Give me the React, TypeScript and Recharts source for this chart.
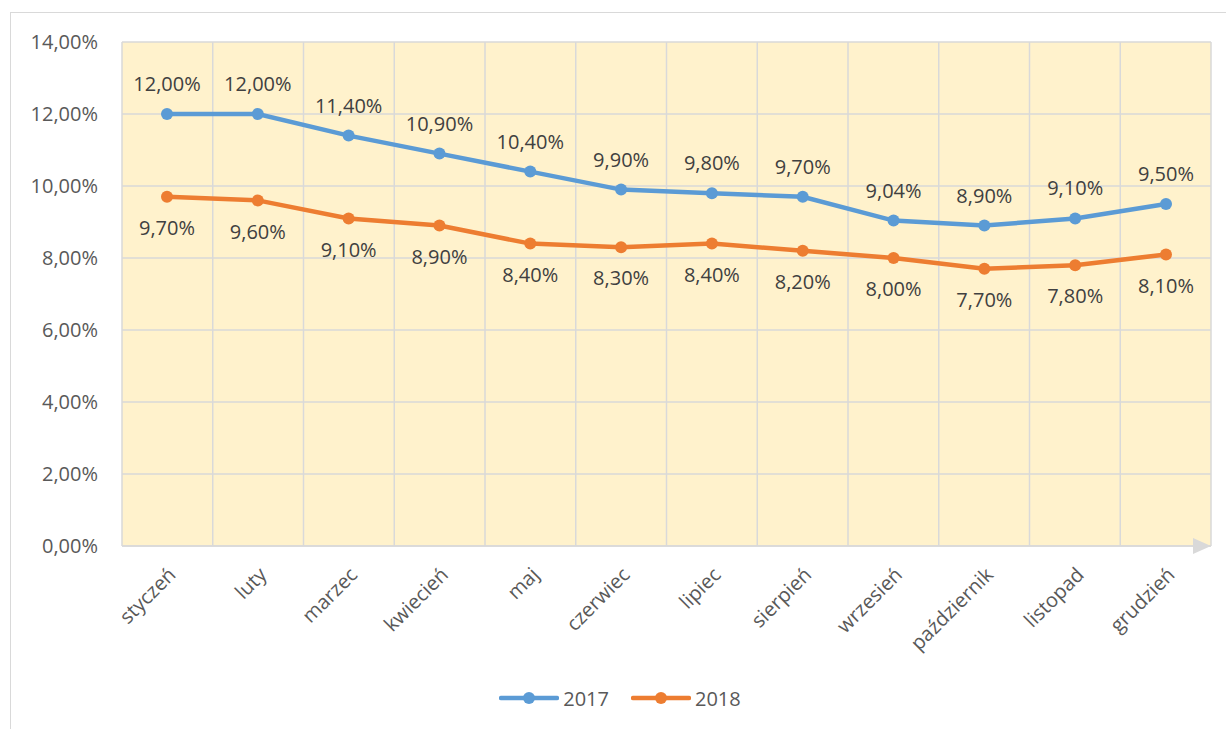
import React from "react";
import { LineChart, Line, XAxis, YAxis, CartesianGrid, Legend, LabelList } from "recharts";

const months = ["styczeń", "luty", "marzec", "kwiecień", "maj", "czerwiec", "lipiec", "sierpień", "wrzesień", "październik", "listopad", "grudzień"];
const values2017 = [12.0, 12.0, 11.4, 10.9, 10.4, 9.9, 9.8, 9.7, 9.04, 8.9, 9.1, 9.5];
const values2018 = [9.7, 9.6, 9.1, 8.9, 8.4, 8.3, 8.4, 8.2, 8.0, 7.7, 7.8, 8.1];
const yTicks = [0, 2, 4, 6, 8, 10, 12, 14];

const data = months.map((m, i) => ({ month: m, y2017: values2017[i], y2018: values2018[i] }));

const FONT = "'Open Sans', sans-serif";
const GRID = "#D9D9D9";
const FS = 20;
const pct = (v: number) => v.toFixed(2).replace(".", ",") + "%";

const MonthTick = ({ x, y, payload }: any) => (
  <text
    x={0}
    y={0}
    transform={`translate(${x + 10}, ${y + 22}) rotate(-45)`}
    textAnchor="end"
    fill="#595959"
    fontSize={FS}
    fontFamily={FONT}
  >
    {payload.value}
  </text>
);

const AxisArrow = ({ viewBox }: any) => {
  if (!viewBox) return null;
  const tx = viewBox.x + viewBox.width;
  const ty = viewBox.y;
  return <polygon points={`${tx - 18},${ty - 8} ${tx},${ty} ${tx - 18},${ty + 8}`} fill={GRID} />;
};

const LegendContent = () => {
  const items = [
    { name: "2017", color: "#5B9BD5" },
    { name: "2018", color: "#ED7D31" },
  ];
  return (
    <div style={{ display: "flex", justifyContent: "center", gap: 22, height: 30, alignItems: "center", paddingLeft: 18, fontFamily: FONT }}>
      {items.map((it) => (
        <div key={it.name} style={{ display: "flex", alignItems: "center" }}>
          <svg width={60} height={14}>
            <line x1={2} y1={7} x2={58} y2={7} stroke={it.color} strokeWidth={4.5} strokeLinecap="round" />
            <circle cx={30} cy={7} r={6} fill={it.color} />
          </svg>
          <span style={{ fontSize: FS, color: "#595959", marginLeft: 4 }}>{it.name}</span>
        </div>
      ))}
    </div>
  );
};

export default function App() {
  return (
    <div
      style={{
        position: "absolute",
        left: 10,
        top: 12,
        width: 1216,
        height: 717,
        boxSizing: "border-box",
        borderTop: `1.5px solid ${GRID}`,
        borderLeft: `1.5px solid ${GRID}`,
        background: "#fff",
        overflow: "hidden",
      }}
    >
      <LineChart width={1216} height={717} data={data} margin={{ top: 29, right: 16, bottom: 17, left: 0 }}>
        <CartesianGrid
          fill="#FFF2CC"
          stroke={GRID}
          strokeWidth={1.5}
          verticalCoordinatesGenerator={({ offset }: any) =>
            Array.from({ length: 13 }, (_, i) => offset.left + (i * offset.width) / 12)
          }
        />
        <XAxis
          dataKey="month"
          interval={0}
          padding={{ left: 45, right: 45 }}
          tick={<MonthTick />}
          tickLine={false}
          axisLine={{ stroke: GRID, strokeWidth: 1.5 }}
          height={137}
          label={<AxisArrow />}
        />
        <YAxis
          domain={[0, 14]}
          ticks={yTicks}
          tickFormatter={pct}
          axisLine={false}
          tickLine={false}
          width={111}
          tickMargin={18}
          tick={{ fill: "#595959", fontSize: FS, fontFamily: FONT }}
        />
        <Legend verticalAlign="bottom" content={<LegendContent />} />
        <Line dataKey="y2017" name="2017" stroke="#5B9BD5" strokeWidth={4.5} dot={{ r: 6, fill: "#5B9BD5", stroke: "#5B9BD5", strokeWidth: 0 }} isAnimationActive={false}>
          <LabelList dataKey="y2017" position="top" offset={23} formatter={(v: any) => pct(Number(v))} fill="#404040" fontSize={FS} fontFamily={FONT} />
        </Line>
        <Line dataKey="y2018" name="2018" stroke="#ED7D31" strokeWidth={4.5} dot={{ r: 6, fill: "#ED7D31", stroke: "#ED7D31", strokeWidth: 0 }} isAnimationActive={false}>
          <LabelList dataKey="y2018" position="bottom" offset={24} formatter={(v: any) => pct(Number(v))} fill="#404040" fontSize={FS} fontFamily={FONT} />
        </Line>
      </LineChart>
    </div>
  );
}
